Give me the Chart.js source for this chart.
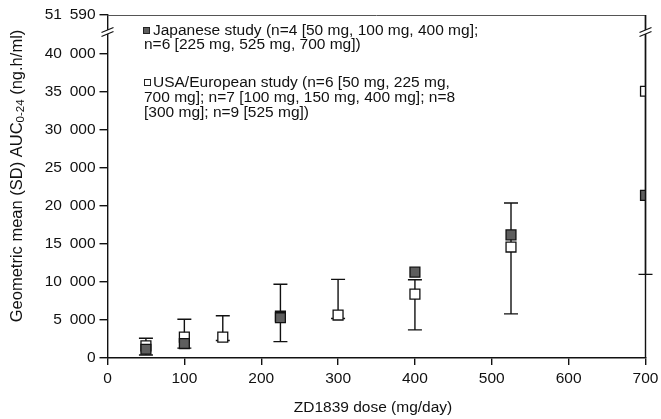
<!DOCTYPE html>
<html>
<head>
<meta charset="utf-8">
<script src="https://cdn.jsdelivr.net/npm/chart.js@4.4.1/dist/chart.umd.min.js"></script>
<style>
  html, body { margin: 0; padding: 0; background: #fff; }
  canvas { display: block; }
</style>
</head>
<body>
<canvas id="aucChart" width="661" height="419"></canvas>
<script>
// dose levels (mg/day) and geometric mean AUC0-24 (ng.h/ml)
const jpDoses = [50, 100, 225, 400, 525, 700];
const jpMeans = [1150, 1900, 5300, 11300, 16200, 21400];
const jpHigh = [2600, 5100, 9700, null, null, null];
const jpLow = [400, 1300, 2150, null, null, null];

const usDoses = [50, 100, 150, 225, 300, 400, 525, 700];
const usMeans = [1600, 2750, 2750, 5500, 5650, 8400, 14600, 35100];
const usHigh = [null, null, 5550, null, 10350, 10300, 20400, 51590];
const usLow = [null, null, 2300, null, 5200, 3700, 5800, 11000];

const xTicks = [0, 100, 200, 300, 400, 500, 600, 700];
const yTicks = [0, 5000, 10000, 15000, 20000, 25000, 30000, 35000, 40000];
const yBreakFrom = 40000;   // axis is broken above this value
const yTopValue = 51590;    // value shown at the top of the axis
const yTopDrawn = 45130;    // where that value sits on the drawn scale

const jpLegend = ["Japanese study (n=4 [50 mg, 100 mg, 400 mg];",
                  "n=6 [225 mg, 525 mg, 700 mg])"];
const usLegend = ["USA/European study (n=6 [50 mg, 225 mg,",
                  "700 mg]; n=7 [100 mg, 150 mg, 400 mg]; n=8",
                  "[300 mg]; n=9 [525 mg])"];

const FONT = "'Liberation Sans', Arial, Helvetica, sans-serif";
const FS = 15.5;

// squeeze values above the break into the short top segment
function toDrawn(v) {
  if (v <= yBreakFrom) return v;
  return yBreakFrom + (v - yBreakFrom) * (yTopDrawn - yBreakFrom) / (yTopValue - yBreakFrom);
}

function fmt(v) {
  return String(v).replace(/\B(?=(\d{3})+(?!\d))/g, "\u2002");
}

const points = (xs, ys) => xs.map((x, i) => ({ x: x, y: toDrawn(ys[i]) }));

const extras = {
  id: "extras",
  beforeDatasetsDraw(chart) {
    const ctx = chart.ctx;
    const xs = chart.scales.x, ys = chart.scales.y;
    const sets = [[usDoses, usHigh, usLow], [jpDoses, jpHigh, jpLow]];
    ctx.save();
    ctx.strokeStyle = "#111";
    ctx.lineWidth = 1.4;
    sets.forEach(([doses, hi, lo]) => {
      doses.forEach((d, i) => {
        if (hi[i] == null) return;
        const x = xs.getPixelForValue(d);
        const yh = ys.getPixelForValue(toDrawn(hi[i]));
        const yl = ys.getPixelForValue(toDrawn(lo[i]));
        ctx.beginPath();
        ctx.moveTo(x, yh);
        ctx.lineTo(x, yl);
        if (hi[i] < yTopValue) {
          ctx.moveTo(x - 7, yh);
          ctx.lineTo(x + 7, yh);
        }
        ctx.moveTo(x - 7, yl);
        ctx.lineTo(x + 7, yl);
        ctx.stroke();
      });
    });
    ctx.restore();
  },
  afterDraw(chart) {
    const ctx = chart.ctx;
    const a = chart.chartArea;
    const ys = chart.scales.y;
    ctx.save();

    // top frame line and right axis
    ctx.strokeStyle = "#555";
    ctx.lineWidth = 1;
    ctx.beginPath();
    ctx.moveTo(a.left, a.top + 0.5);
    ctx.lineTo(a.right, a.top + 0.5);
    ctx.stroke();
    ctx.strokeStyle = "#111";
    ctx.lineWidth = 1.4;
    ctx.beginPath();
    ctx.moveTo(a.right, a.top);
    ctx.lineTo(a.right, a.bottom);
    ctx.stroke();

    // axis break marks on both vertical axes
    const yb = ys.getPixelForValue((yBreakFrom + yTopDrawn) / 2) - 2;
    [a.left, a.right].forEach(x => {
      ctx.fillStyle = "#fff";
      ctx.beginPath();
      ctx.moveTo(x - 6, yb + 4);
      ctx.lineTo(x + 6, yb - 1);
      ctx.lineTo(x + 6, yb - 5);
      ctx.lineTo(x - 6, yb);
      ctx.closePath();
      ctx.fill();
      ctx.strokeStyle = "#111";
      ctx.lineWidth = 1.2;
      ctx.beginPath();
      ctx.moveTo(x - 6, yb + 4);
      ctx.lineTo(x + 6, yb - 1);
      ctx.moveTo(x - 6, yb);
      ctx.lineTo(x + 6, yb - 5);
      ctx.stroke();
    });

    // legend
    ctx.font = FS + "px " + FONT;
    ctx.textBaseline = "middle";
    ctx.textAlign = "left";
    ctx.fillStyle = "#5e5e5e";
    ctx.fillRect(143, 27, 7, 7);
    ctx.strokeStyle = "#222";
    ctx.lineWidth = 1;
    ctx.strokeRect(143.5, 27.5, 6, 6);
    ctx.strokeRect(144.5, 79.5, 6, 6);
    ctx.fillStyle = "#111";
    ctx.fillText(jpLegend[0], 153, 31);
    ctx.fillText(jpLegend[1], 144, 45);
    ctx.fillText(usLegend[0], 153, 83);
    ctx.fillText(usLegend[1], 144, 98);
    ctx.fillText(usLegend[2], 144, 113);

    // x axis title
    ctx.textAlign = "center";
    ctx.fillText("ZD1839 dose (mg/day)", 373, 408);

    // y axis title with subscript
    const parts = [["Geometric mean (SD) AUC", 16.5, 0], ["0-24", 11.5, 4], [" (ng.h/ml)", 16.5, 0]];
    let total = 0;
    parts.forEach(p => { ctx.font = p[1] + "px " + FONT; total += ctx.measureText(p[0]).width; });
    ctx.translate(17, 176);
    ctx.rotate(-Math.PI / 2);
    ctx.textAlign = "left";
    let cx = -total / 2;
    parts.forEach(p => {
      ctx.font = p[1] + "px " + FONT;
      ctx.fillText(p[0], cx, p[2]);
      cx += ctx.measureText(p[0]).width;
    });
    ctx.restore();
  }
};

const ctx = document.getElementById("aucChart").getContext("2d");
const chart = new Chart(ctx, {
  type: "scatter",
  data: {
    datasets: [{
      label: "USA/European study",
      data: points(usDoses, usMeans),
      pointStyle: "rect",
      pointRadius: 7,
      pointHoverRadius: 7,
      backgroundColor: "#fff",
      borderColor: "#111",
      pointBorderWidth: 1.3,
      order: 2
    }, {
      label: "Japanese study",
      data: points(jpDoses, jpMeans),
      pointStyle: "rect",
      pointRadius: 7,
      pointHoverRadius: 7,
      backgroundColor: "#5e5e5e",
      borderColor: "#111",
      pointBorderWidth: 1.3,
      order: 1
    }]
  },
  options: {
    responsive: false,
    animation: false,
    devicePixelRatio: 1,
    layout: { padding: { top: 15, right: 15.5, left: 0, bottom: 0 } },
    plugins: { legend: { display: false }, tooltip: { enabled: false } },
    scales: {
      x: {
        type: "linear",
        min: 0,
        max: 700,
        afterBuildTicks: s => { s.ticks = xTicks.map(v => ({ value: v })); },
        afterFit: s => { s.height = 61; s.paddingLeft = 0; s.paddingRight = 0; },
        grid: { display: true, drawOnChartArea: false, drawTicks: true, tickLength: 7, color: "#111", lineWidth: 1.4 },
        border: { display: true, color: "#111", width: 1.4 },
        ticks: { color: "#111", padding: 4, font: { family: FONT, size: FS }, maxRotation: 0 }
      },
      y: {
        type: "linear",
        min: 0,
        max: yTopDrawn,
        afterBuildTicks: s => {
          s.ticks = yTicks.map(v => ({ value: v })).concat([{ value: yTopDrawn }]);
        },
        afterFit: s => { s.width = 107.5; s.paddingTop = 0; s.paddingBottom = 0; },
        grid: { display: true, drawOnChartArea: false, drawTicks: true, tickLength: 8, color: "#111", lineWidth: 1.4 },
        border: { display: true, color: "#111", width: 1.4 },
        ticks: {
          color: "#111",
          padding: 4,
          font: { family: FONT, size: FS },
          callback: v => v === yTopDrawn ? fmt(yTopValue) : fmt(v)
        }
      }
    }
  },
  plugins: [extras]
});
</script>
</body>
</html>
